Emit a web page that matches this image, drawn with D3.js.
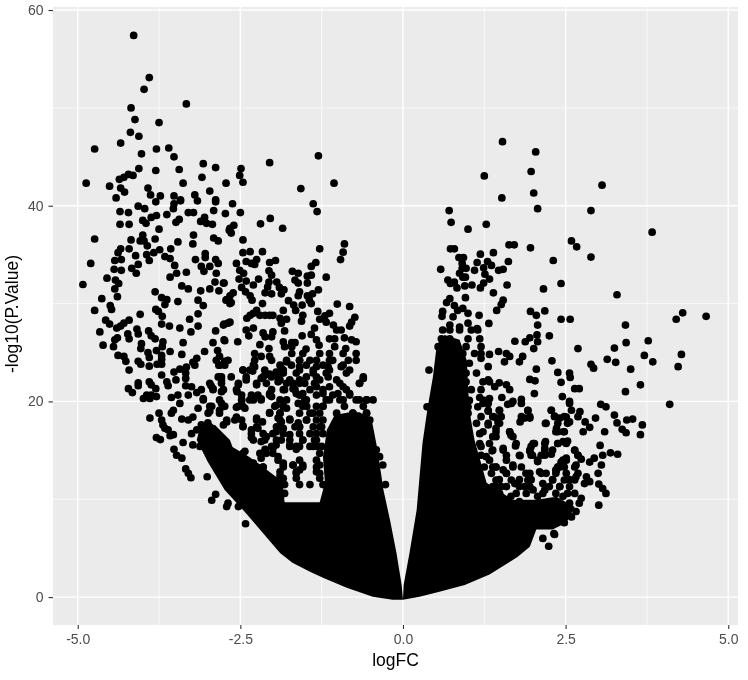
<!DOCTYPE html>
<html><head><meta charset="utf-8">
<script src="https://cdn.jsdelivr.net/npm/d3@7/dist/d3.min.js"></script>
<style>html,body{margin:0;padding:0;background:#fff}svg{display:block;filter:blur(0.4px)}</style>
</head><body><svg id="c" width="748" height="680"></svg>
<script>
const xLimits=[-5.38,5.15], yLimits=[-2.85,60.31];
const xMajor=[-5,-2.5,0,2.5,5], xMinor=[-3.75,-1.25,1.25,3.75];
const yMajor=[0,20,40,60], yMinor=[10,30,50];
const xLabel="logFC", yLabel="-log10(P.Value)";

// saturated masses where individual points cannot be told apart: outlines
const denseLeft=[[-.665,18.9],[-.48,18.1],[-.39,15],[-.3,10.95],[-.2,7.9],[-.1,4.5],[-.02,1.25],[0,-.28],[-.16,-.28],[-.465,.03],[-.865,.95],[-1.23,1.97],[-1.43,2.58],[-1.7,3.5],[-1.89,4.5],[-2.17,6.67],[-2.43,8.7],[-2.74,10.95],[-3,13.8],[-3.17,16.05],[-3.12,17.4],[-2.89,17.6],[-2.66,16.05],[-2.62,15.35],[-2.355,14.3],[-2.09,13],[-1.85,11.8],[-1.82,9.7],[-1.28,9.7],[-1.2,11.7],[-1.23,14.3],[-1.17,17.1],[-1.05,18.6],[-.82,18.9]];
const denseRight=[[.01,1.25],[.1,4.5],[.21,8.9],[.3,15.75],[.38,19.4],[.46,22.5],[.52,25.8],[.64,26.8],[.87,26.3],[.98,24.2],[1.02,19.1],[1.1,16.05],[1.285,11.7],[1.685,9.95],[2.05,9.95],[2.36,10.25],[2.64,9.2],[2.51,7.6],[2.3,6.9],[2.05,6.9],[1.95,5.15],[1.76,4.1],[1.33,2.3],[.95,1.25],[.56,.54],[.255,.03],[0,-.28]];

const topLeft=[[-4.14,57.4],[-3.9,53.1],[-3.98,51.9],[-3.33,50.4],[-4.18,50],[-4.12,48.8],[-3.75,48.5],[-4.19,47.5],[-4.06,47.1],[-4.34,46.4],[-4.74,45.8],[-3.79,45.8],[-3.6,45.9],[-3.52,45],[-4.02,45.3],[-4.06,43.8],[-3.8,43.6],[-3.44,43.7],[-3.07,44.3],[-2.88,43.9],[-3.09,42.9],[-3.38,42.3],[-2.72,42.3],[-4.87,42.3],[-4.51,42],[-4.15,43.1],[-4.22,43.2],[-4.29,42.9],[-4.36,42.7],[-4.34,41.8],[-4.28,41.4],[-4.41,40.8],[-3.92,41.8],[-3.88,41.1],[-3.73,41],[-3.52,41],[-3.42,40.6],[-3.2,41.1],[-2.97,41.5],[-2.88,40.6]];
const midLeft=[[-4.07,39.95],[-3.97,39.7],[-3.8,40.4],[-3.52,40.2],[-3.53,39.7],[-3.42,40.5],[-3.16,40.5],[-2.88,40.4],[-4.35,39.4],[-4.22,39.3],[-3.63,39.1],[-3.79,39],[-3.87,38.8],[-4,38.5],[-3.95,38.2],[-3.3,39.3],[-3.22,39.3],[-2.91,39.5],[-2.73,39.2],[-3.05,38.8],[-3.11,38.4],[-3.02,38.2],[-2.93,38.1],[-3.44,38.6],[-3.49,38.3],[-4.35,38.1],[-4.21,38.1],[-3.75,37.6],[-2.67,37.5],[-4.74,36.6],[-4.18,36.5],[-4,37],[-4.04,36.4],[-3.98,36.4],[-3.93,35.9],[-3.81,36.6],[-3.22,37],[-3.23,36.1],[-2.91,36.7],[-2.84,36.4],[-3.46,36.3],[-3.57,35.6],[-3.74,35.5],[-3.83,35.2],[-3.94,35],[-4.21,35.6],[-4.34,35.6],[-4.38,35.2],[-4.11,34.9],[-4.43,34.4],[-4.33,34.5],[-3.9,34.4],[-3.66,34.8],[-3.58,34.6],[-3.51,33.9],[-3.04,35.1],[-3.04,34.7],[-3.19,34.5],[-2.88,34.5],[-2.84,34.1],[-4.8,34.1],[-4.07,34],[-4.17,33.6],[-4.44,33.5],[-4.33,33.4],[-4.1,33.1],[-3.48,33.1],[-3.33,33.2],[-3.1,33.8],[-3.06,33.3],[-2.97,33.8],[-2.87,33.1],[-3.58,32.7],[-4.55,32.6],[-4.42,32.4],[-4.37,32.05],[-4.43,31.5],[-4.92,31.95],[-2.89,32.2],[-2.75,32.1],[-3.4,31.8],[-3.3,31.5],[-3.11,31.3],[-2.97,31.5],[-2.83,31.3],[-3.81,31.2],[-4.39,30.7],[-4.63,30.5],[-3.71,30.6],[-3.63,30.4],[-3.66,29.9],[-3.46,30.2],[-3.15,30.35],[-2.71,30.4],[-2.66,30],[-3.07,29.8],[-4.5,29.8],[-4.48,29.4],[-4.74,29.3],[-3.8,29.4],[-3.76,29.2],[-4.04,28.9],[-3.7,28.7],[-3.15,28.95],[-3.28,28.4],[-4.57,28.3],[-4.51,27.9],[-4.21,28.3],[-4.29,28],[-4.34,27.7],[-4.4,27.5],[-3.71,27.9],[-3.59,27.7],[-3.43,27.5],[-3.15,27.7],[-3.26,27.1],[-2.76,27.8],[-2.69,28],[-4.66,27.1],[-4.09,27.4],[-4.07,26.9],[-4.23,26.9],[-3.91,27.2],[-2.88,27.2],[-3.87,26.7],[-4.21,26.4],[-4.39,26.5],[-4.43,26.3],[-3.81,26.4],[-3.69,26.1],[-3.38,26],[-2.92,26],[-2.75,26.3],[-4.61,25.75],[-4.45,25.6],[-4.02,25.9],[-4.03,25.4],[-3.79,25.2],[-3.7,25.6],[-3.58,25.1],[-3.92,25],[-2.85,25.2],[-3.05,25.1],[-3.4,24.8],[-3.71,24.7],[-4.38,24.7],[-4.29,24.6],[-4.26,24.1],[-3.9,24.5],[-3.71,24.3],[-4.07,24.1],[-4.03,23.8],[-3.9,23.6],[-3.78,23.8],[-3.71,23.8],[-3.17,24.4],[-3.23,24],[-2.82,24.6],[-2.74,24.1],[-2.83,23.7],[-3.33,23.5],[-3.2,23.7],[-3.43,23.3],[-3.52,23],[-4.21,23.2],[-3.34,22.9],[-3.71,22.7],[-3.34,22.35],[-3.49,22.2],[-2.82,22.5],[-2.79,22.2],[-3.9,22],[-4.07,21.9],[-3.63,22],[-3.87,21.7],[-3.61,21.6],[-3.34,21.6],[-3.25,21.5],[-2.95,21.6],[-4.07,21.6],[-4.22,21.3],[-4.16,20.9],[-3.8,21.3],[-3.1,21.2],[-3.17,20.9],[-2.92,21.3],[-2.79,21],[-3.94,20.65],[-3.87,20.65],[-3.99,20.3],[-3.89,20.3],[-3.79,20.5],[-3.46,20.65],[-3.3,20.65],[-3.56,20.4],[-3.07,20.3]];
const innerLeft=[[-1.3,45.1],[-2.05,44.4],[-2.49,43.8],[-2.51,43.1],[-2.46,42.4],[-1.06,42.3],[-1.57,41.75],[-1.38,40.2],[-1.32,39.4],[-2.62,40.2],[-2.5,39.3],[-2.04,38.7],[-2.19,38.15],[-1.85,37.7],[-2.6,38],[-2.66,37.7],[-2.64,37.2],[-2.46,36.5],[-.9,36.1],[-.92,35.25],[-.96,34.5],[-1.28,35.6],[-2.46,35.2],[-2.35,35.3],[-2.16,35.3],[-1.34,34.2],[-1.41,33.8],[-1.96,34.4],[-2.05,34.2],[-2.56,34.1],[-2.41,34.3],[-2.33,34.1],[-2.25,34.5],[-2.28,34],[-1.7,33.3],[-1.61,33.1],[-2.06,33.35],[-2.02,32.9],[-2.51,33.4],[-2.45,33.1],[-1.47,32.8],[-1.41,32.9],[-1.18,32.7],[-1.66,32.4],[-1.61,32.1],[-1.47,32.1],[-2.52,32.5],[-2.41,32.3],[-2.22,32.5],[-2.3,31.9],[-2.06,32.2],[-2.08,31.7],[-1.94,32.2],[-1.9,31.65],[-2.76,32.1],[-2.48,31.65],[-2.42,31.2],[-1.83,31.4],[-1.87,31],[-2.12,31.1],[-2.02,31],[-1.3,31.4],[-1.59,31.2],[-1.39,31],[-1.61,30.8],[-1.47,30.8],[-2.35,30.8],[-2.61,31.1],[-2.66,30.8],[-2.72,30.35],[-2.64,30.1],[-2.32,30.35],[-1.76,30.3],[-1.68,29.85],[-1.65,29.3],[-1.55,29.85],[-1.44,30.35],[-1.41,30],[-2.16,30],[-1.01,29.95],[-.82,29.7],[-1.84,29.3],[-2.25,29.3],[-2.3,29],[-2.35,28.8],[-2.4,28.5],[-2.2,28.8],[-2.12,28.8],[-2.05,28.8],[-2,28.8],[-1.31,29.2],[-1.13,29],[-1.2,28.75],[-.74,28.6],[-1.54,28.8],[-1.56,28.2],[-1.28,28.4],[-1.18,28.1],[-1.89,28.5],[-1.79,28.4],[-1.87,28],[-.79,28.1],[-.82,27.7],[-2.66,28.1],[-2.75,27.9],[-1.07,27.8],[-1.36,27.5],[-2.41,27.3],[-2.3,27.5],[-2.37,26.7],[-1.82,27.2],[-2.15,27],[-2,27.1],[-2.12,26.6],[-2.02,26.6],[-1.02,27.3],[-.95,27.3],[-1.55,26.7],[-1.41,26.85],[-2.74,26.2],[-2.54,26.1],[-2.2,25.8],[-2.06,25.4],[-1.84,26.1],[-1.71,26],[-1.66,26],[-1.82,25.6],[-1.71,25.6],[-1.33,26.3],[-1.29,25.75],[-1.13,26.4],[-1.05,26.4],[-.9,26.5],[-.79,26.3],[-.72,26.1],[-.88,25.4],[-1.05,25.6],[-1.49,25.35]];
const lowLeft=[[-2.28,24.9],[-2.18,24.6],[-2.05,24.6],[-1.79,24.05],[-2.46,23.2],[-2.28,23.55],[-2.31,23.1],[-1.87,23.4],[-1.95,23],[-2.12,22.7],[-2.05,22.8],[-2.18,22.35],[-2.25,21.7],[-2.41,22.2],[-1.92,22],[-1.79,21.85],[-1.69,21.3],[-1.82,21.2],[-1.51,21.85],[-2.53,21.7],[-2.55,21],[-2.05,20.8],[-2.02,20.5],[-1.56,20.65],[-1.61,19.8],[-2.18,20.25],[-2.3,20.15],[-2.48,20.15],[-2.43,19.3],[-2.56,19.4],[-1.79,19.3],[-1.95,19.6],[-2.05,18.85],[-2.25,18.3],[-2.16,17.9],[-1.92,18.3],[-2.56,18.4],[-2.48,18.1],[-2.46,17.5],[-1.74,18.2],[-1.87,17.9],[-1.61,17.8],[-2.33,17.1],[-2.23,17.25],[-1.84,17.25],[-1.95,16.9],[-2.33,16.3],[-2.1,16.4],[-2.18,15.9],[-1.74,16.6],[-1.74,15.55],[-1.95,15.55],[-2,15.2],[-1.64,15.1],[-2.12,15.1],[-2.43,14.9],[-1.92,14.35],[-2.18,14.2],[-1.84,13.7],[-1.69,13.5],[-1.59,13],[-2.1,12.4],[-1.89,12.4],[-1.82,10.6],[-2.15,13.3],[-2.3,13.7],[-3.89,18.3],[-3.75,18.8],[-3.71,18.1],[-3.56,18.8],[-3.53,19.1],[-3.43,19.8],[-3.4,18.2],[-3.3,18.1],[-3.23,18.4],[-3.15,19.3],[-2.97,19.5],[-2.97,19],[-2.79,19.8],[-2.82,19.1],[-2.74,19.5],[-2.71,17.9],[-2.76,17.6],[-3.69,17.6],[-3.61,17.1],[-3.66,17.25],[-3.53,16.6],[-3.58,16.5],[-3.79,16.3],[-3.73,16.1],[-3.25,16.7],[-3.17,17.1],[-3.1,17.6],[-3,17.8],[-2.94,17.25],[-3.38,15.8],[-3.23,15.55],[-3.12,15.4],[-3.52,15.1],[-3.48,14.5],[-3.4,14.2],[-3.34,13.1],[-3.3,12.65],[-3.26,12.2],[-3.01,12.3],[-2.94,9.9],[-2.88,10.5],[-2.71,9.25],[-2.69,9.6],[-2.42,7.5],[-2.53,9.25]];
const coreLeft=[[-1.71,24.9],[-1.54,24.9],[-1.28,24.9],[-1.13,24.9],[-.92,24.9],[-.72,24.9],[-1.59,24.2],[-1.43,24.2],[-1.13,24.2],[-.84,24.2],[-1.59,23.55],[-1.33,23.55],[-1.15,23.55],[-.95,23.55],[-1.84,22.9],[-1.64,22.9],[-1.38,22.9],[-1.18,22.9],[-.87,22.9],[-1.89,22.2],[-1.74,22.2],[-1.59,22.2],[-1.28,22.2],[-1.02,22.2],[-.61,22.35],[-.67,21.85],[-1.33,21.5],[-1.13,21.5],[-.92,21.5],[-1.64,20.8],[-1.54,20.8],[-1.23,20.8],[-1,20.8],[-.82,20.8],[-1.51,20.15],[-1.13,20.15],[-.92,20.15],[-.67,20.15],[-.56,20.15],[-.46,20.15],[-1.84,19.5],[-1.48,19.5],[-1.23,19.5],[-.9,19.5],[-1.89,18.8],[-1.59,18.8],[-1.38,18.8],[-1.02,18.8],[-.77,18.8],[-.56,18.8],[-1.48,18.1],[-1.23,18.1],[-.51,18.1],[-1.89,17.4],[-1.59,17.4],[-1.28,17.4],[-1.43,16.7],[-1.23,16.7],[-1.87,16.05],[-1.54,16.05],[-1.33,16.05],[-1.59,15.4],[-1.38,15.4],[-1.25,15.4],[-.41,15.05],[-.36,14.35],[-1.84,13.5],[-1.69,13.5],[-1.54,13.5],[-1.28,13.5],[-.31,13.5],[-1.89,12.8],[-1.64,12.8],[-1.33,12.8],[-1.84,12.15],[-1.64,12.15],[-1.28,12.15],[-1.82,11.5],[-1.59,11.5],[-1.43,11.5],[-1.23,11.5],[-.27,11.5]];
// rows: [negLogP, [logFC, ...]]
const bandLeftRows=[[24.2,[-2.87,-2.69,-2.28,-2.02,-1.79,-1.59,-1.33,-1.08,-.72]],[23.7,[-2.82,-2.74,-2.3,-1.89,-1.715,-1.485,-1.23,-.92]],[23.2,[-2.46,-2.355,-2.125,-1.84,-1.59,-1.38,-1.13,-.82]],[22.5,[-2.84,-2.79,-2.64,-2.41,-2.15,-2.02,-1.92,-1.485,-1.33,-1.15,-.61]],[21.85,[-2.97,-2.79,-2.53,-2.25,-2.1,-1.69,-1.59,-1.36,-.97,-.665]],[21.2,[-2.92,-2.76,-2.56,-2.02,-1.84,-1.66,-1.43,-1.23,-.87]],[20.65,[-2.05,-2.48,-2.33,-2.23,-1.59,-1.33,-1.08,-.82]],[20.15,[-3.07,-2.82,-2.48,-2.355,-2.18,-1.89,-1.79,-1.485,-1.18,-.97,-.72,-.56]],[19.5,[-2.94,-2.76,-2.53,-2.46,-1.97,-1.84,-1.54,-1.33,-1.23,-.61]],[18.8,[-2.995,-2.82,-2.05,-1.89,-1.43,-1.28,-.77,-.56]],[18.1,[-2.71,-2.585,-2.25,-1.89,-1.74,-1.485,-1.33,-.77]],[17.4,[-2.97,-2.46,-2.25,-1.945,-1.66,-1.59,-1.38,-1.25]],[16.7,[-2.33,-2.15,-2,-1.84,-1.59,-1.33]],[16.05,[-2.3,-2.125,-1.945,-1.74,-1.54,-1.36]],[15.4,[-2.02,-1.74,-1.64,-1.43,-1.33]],[14.7,[-2.46,-2.2,-2.1,-2,-1.28]],[14,[-2.51,-1.92,-1.59,-1.33]],[13.3,[-2.25,-2.15,-1.84,-1.54,-1.33]],[12.65,[-1.64,-1.28]]];

const topRight=[[1.53,46.55],[2.04,45.5],[1.97,43.5],[1.25,43.05],[2.01,41.3],[1.52,40.8],[2.07,39.7],[.71,39.5],[.74,38.3],[1,37.6],[1.28,38.1],[2.59,36.4],[2.67,35.8],[1.63,36],[1.71,36],[1.96,35.7],[.73,35.6],[.79,35.6],[1.39,35.2],[1.19,35.05],[.86,34.7],[.93,34.7],[2.31,34.4],[1.14,34.2],[1.3,34.3],[1.36,33.9],[1.62,34.3],[.91,34.1],[.58,33.5],[.97,33.6],[.91,33.6],[1.24,33.65],[1.1,33.4],[1.47,33.4],[1.54,33.5],[.87,33.1],[1.26,33],[.92,32.7],[.96,32.7],[1.33,32.5],[.69,32.4],[.79,32.2],[.73,32.05],[1.24,32.1],[1.19,31.6],[.83,31.6],[.95,31.8],[1.06,31.9],[1.6,31.9],[2.43,32.05],[2.16,31.5],[1.39,31.1],[.96,30.6],[.72,30.5],[.67,30.1],[1.54,30.35],[1.51,29.9],[.79,29.8],[.84,29.3],[.92,29.5],[1,29],[.61,29.2],[.6,28.7],[.77,28.65],[1.17,28.8],[1.44,29.3],[1.96,29.2],[2.05,28.8],[2.18,29.25],[2.43,28.4],[2.57,28.4]];
const midRight=[[1.32,27.97],[.72,27.8],[1,28],[1.14,27.45],[.87,27.6],[2.07,27.8],[2.06,26.8],[2.25,26.7],[1.95,26.5],[1.88,26.1],[1.72,26.15],[2.07,26.1],[2.01,25.4],[2.69,25.4],[1.33,24.8],[1.47,25.1],[1.59,24.9],[1.64,24.6],[1.56,24.05],[1.84,24.6],[1.79,24.05],[2.29,24.15],[2.05,23.3],[2.38,22.96],[2.56,22.9],[2.57,22.45],[1.95,22.25],[2.03,22.1],[2.43,21.95],[2.64,21.3],[2.71,21.3],[1.31,23.55],[.4,23.2],[1.2,24.4],[1.48,21.9],[1.59,21.7],[1.64,21.2],[1.31,22.2],[1.41,21.5],[2.02,20.8],[1.82,20.2],[1.52,20.4],[2.45,20.5],[2.56,20],[1.69,20],[1.61,19.7],[.37,19.45],[1.33,20.3],[1.18,20.4],[1.92,19.05],[1.48,19.1],[1.31,19],[2.28,19.1],[2.33,18.5],[2.41,18.3],[2.59,19.1],[2.51,18.4],[2.56,17.9],[1.95,18.3],[1.87,18.3],[1.8,17.9],[2.19,17.75],[1.41,18.4],[1.46,17.9],[1.31,17.6],[1.43,17.25],[2.36,17.25],[2.38,16.9],[2.47,16.9],[1.64,16.9],[1.66,16.55],[1.43,16.4],[1.18,16.7],[2.02,15.7],[1.97,15.4],[1.95,14.9],[2.19,15.9],[2.18,15.2],[2.38,15.7],[2.46,15.9],[2.53,15.95],[1.73,15.45],[1.8,14.45],[1.37,14.95],[1.54,15.2],[1.59,14.5],[1.99,14.5],[2.07,13.85],[2.18,14.5],[2.28,14.6],[2.64,15],[2.69,14.5],[2.46,13.85],[2.51,14.2],[2.41,13.3],[2.36,13],[1.69,13.5],[1.54,13],[1.59,12.65],[1.43,13.3],[1.89,12.65],[1.97,12],[2.1,12.8],[2.2,12.65],[1.79,12],[1.87,11.3],[1.72,11.6],[2.3,12],[2.41,11.3],[2.56,12],[2.66,12.3],[2.15,11.6],[2.18,10.95],[2,10.95],[2.07,10.3],[1.48,12],[1.43,11.3],[1.59,11.3],[1.66,10.3],[1.54,9.9],[1.79,9.75],[1.89,9.25],[2.25,9.75],[2.46,10.3],[2.56,9.6],[1.2,15.4],[1.28,14.35],[1.38,13.3]];
const coreRight=[[.61,27.3],[.72,27.3],[.87,27.3],[1.05,27.3],[1.15,27.3],[.59,26.4],[.72,26.4],[1,26.4],[1.18,26.4],[.54,25.6],[.82,25.6],[.97,25.6],[1.2,25.6],[.92,24.9],[1.1,24.9],[1.2,24.9],[1.02,23.9],[.97,22.9],[1.13,22.9],[.97,22],[1.23,22],[1.33,22],[1.05,21.2],[1.2,21.2],[1.02,20.1],[1.25,20.1],[1,19.45],[1.15,19.45],[1,18.8]];
const farRight=[[3.06,42.1],[2.89,39.5],[3.83,37.3],[2.89,34.75],[3.29,30.9],[4.3,29.05],[4.2,28.4],[4.66,28.7],[3.42,27.8],[3.77,26.2],[3.43,26],[3.25,25.45],[3.71,24.7],[4.28,24.8],[3.14,24.3],[3.27,24],[3.84,24.05],[4.23,23.55],[2.89,23.8],[2.93,23.4],[3.5,23.3],[4.1,19.7],[3.42,21],[3.65,21.7],[3.04,19.7],[3.12,19.45],[2.72,18.95],[3.25,18.6],[2.96,18.3],[2.8,17.9],[3.44,18.1],[3.53,18.2],[3.29,17.8],[3.68,17.6],[2.87,17.35],[2.77,16.9],[3.37,17.15],[3.43,16.8],[3.1,16.9],[3.65,16.6],[3.03,15.5],[3.3,14.6],[3.19,14.75],[3.07,14.5],[2.94,14.2],[2.87,13.8],[2.74,14.1],[2.66,13.5],[2.43,13.8],[2.38,13.3],[2.35,13],[3.05,13.5],[3,12.65],[2.82,12.3],[2.87,11.8],[2.79,11.6],[3.01,11.55],[3.07,11.1],[3.12,10.6],[3.01,9.4],[2.74,10.1],[2.71,9.6],[2.66,8.75],[2.59,8.2],[2.48,7.6],[2.32,6.5],[2.24,5.2],[2.15,6],[2.33,6.4]];
const bandRightRows=[[19.8,[1.23,1.31,1.665,1.82,2.56]],[19.1,[.97,1.31,1.485,1.92,2.28]],[18.44,[1.2,1.38,1.51,1.82,1.95,2.33,2.48,2.69]],[17.76,[1.13,1.31,1.485,2.2,2.38,2.53]],[16.9,[1.23,1.43,1.64,2.35,2.48]],[16.4,[1.38,1.69]],[15.7,[1.18,1.33,1.74,2,2.18,2.38,2.51]],[15.03,[1.38,1.54,1.95,2.18,2.3,2.64]],[14.5,[1.2,1.79,1.97,2.125,2.69]],[14,[1.33,1.59,2.07,2.46,2.51]],[13.3,[1.25,1.43,1.69,1.82,2.38,2.48,2.64]],[12.65,[1.36,1.59,1.95,2.125,2.35,2.51,2.69]],[11.97,[1.43,1.665,1.92,2.3,2.48,2.64]],[11.3,[1.38,1.51,1.79,1.95,2.25,2.41,2.56]],[10.6,[1.485,1.74,1.895,2.15,2.35,2.53,2.64]]];

const svg=d3.select("#c");
const x=d3.scaleLinear().domain(xLimits).range([53,738]);
const y=d3.scaleLinear().domain(yLimits).range([625,7]);
const font="'Liberation Sans',Arial,Helvetica,sans-serif";

svg.append("rect").attr("x",x(xLimits[0])).attr("y",y(yLimits[1])).attr("width",x(xLimits[1])-x(xLimits[0])).attr("height",y(yLimits[0])-y(yLimits[1])).attr("fill","#EBEBEB");
const grid=svg.append("g").attr("stroke","#fff").attr("fill","none");
grid.selectAll(".vm").data(xMinor).join("line").attr("x1",d=>x(d)).attr("x2",d=>x(d)).attr("y1",y.range()[0]).attr("y2",y.range()[1]).attr("stroke-width",.7);
grid.selectAll(".hm").data(yMinor).join("line").attr("y1",d=>y(d)).attr("y2",d=>y(d)).attr("x1",x.range()[0]).attr("x2",x.range()[1]).attr("stroke-width",.7);
grid.selectAll(".vM").data(xMajor).join("line").attr("x1",d=>x(d)).attr("x2",d=>x(d)).attr("y1",y.range()[0]).attr("y2",y.range()[1]).attr("stroke-width",1.4);
grid.selectAll(".hM").data(yMajor).join("line").attr("y1",d=>y(d)).attr("y2",d=>y(d)).attr("x1",x.range()[0]).attr("x2",x.range()[1]).attr("stroke-width",1.4);

const line=d3.line().x(d=>x(d[0])).y(d=>y(d[1])).curve(d3.curveLinearClosed);
svg.append("g").selectAll("path").data([denseLeft,denseRight]).join("path").attr("d",line).attr("fill","#000");
const fromRows=rows=>rows.flatMap(([v,xs])=>xs.map(fc=>[fc,v]));
const points=[].concat(topLeft,midLeft,innerLeft,lowLeft,coreLeft,fromRows(bandLeftRows),topRight,midRight,coreRight,farRight,fromRows(bandRightRows));
svg.append("g").selectAll("circle").data(points).join("circle").attr("cx",d=>x(d[0])).attr("cy",d=>y(d[1])).attr("r",3.85).attr("fill","#000");

const ax=svg.append("g").attr("transform","translate(0,625)").call(d3.axisBottom(x).tickValues(xMajor).tickSize(4).tickPadding(5).tickFormat(d3.format(".1f")));
const ay=svg.append("g").attr("transform","translate(53,0)").call(d3.axisLeft(y).tickValues(yMajor).tickSize(4.5).tickPadding(5).tickFormat(d=>String(d)));
[ax,ay].forEach(a=>{a.select(".domain").remove();a.selectAll("line").attr("stroke","#333").attr("stroke-width",1.1);a.selectAll("text").attr("fill","#4D4D4D").style("font-family",font).style("font-size","14px");});
ax.selectAll("text").text(d=>d3.format(".1f")(d).replace("\u2212","-"));
svg.append("text").attr("x",395.5).attr("y",666).attr("text-anchor","middle").attr("fill","#000").style("font-family",font).style("font-size","17.5px").text(xLabel);
svg.append("text").attr("transform","translate(18,314) rotate(-90)").attr("text-anchor","middle").attr("fill","#000").style("font-family",font).style("font-size","17.5px").text(yLabel);
</script></body></html>
